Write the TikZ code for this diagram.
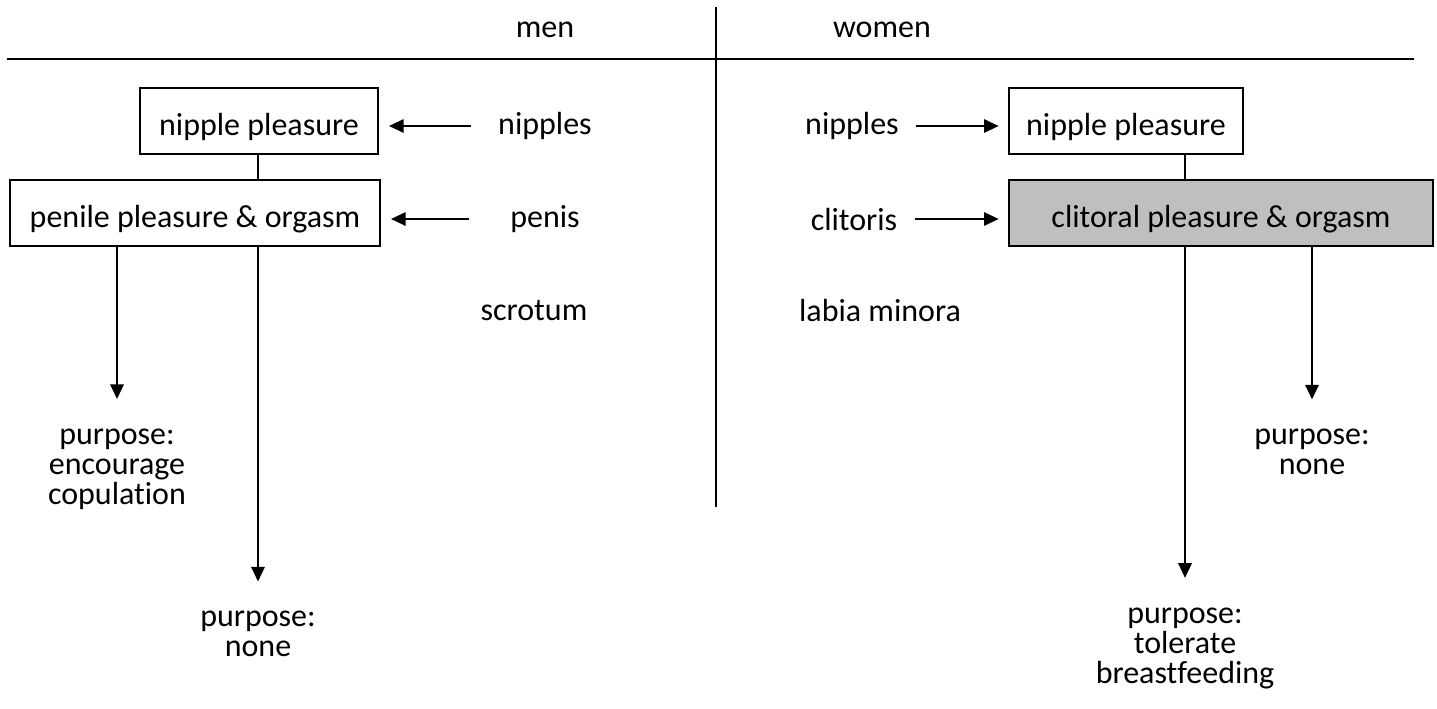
\documentclass[tikz,border=0pt]{standalone}
\usepackage{fontspec}
\setmainfont{Carlito}[Ligatures=NoCommon]
\usetikzlibrary{arrows.meta, positioning}

\tikzset{
    txt/.style={font=\fontsize{24}{22.5}\selectfont, align=center, inner sep=0pt},
    pleasure/.style={txt, draw, line width=1.5pt, minimum height=66*0.75pt, text height=22pt, text depth=1pt},
    feed/.style={line width=1.5pt, -{Triangle[length=11pt, width=10pt]}},
}

\begin{document}
\begin{tikzpicture}[x=0.75pt, y=-0.75pt]
    \useasboundingbox (0,0) rectangle (1437,708);

    % Draw the header lines
    \coordinate (hl) at (7,59);
    \coordinate (hr) at (1414,59);
    \coordinate (vt) at (716,7);
    \coordinate (vb) at (716,507);
    \draw[line width=2pt] (hl) -- (hr);
    \draw[line width=1.25pt] (vt) -- (vb);
    \node[txt] (men) at (545,30) {men};
    \node[txt] (women) at (882,30) {women};

    % Men: purposes (placed first, the arrows use their x)
    \node[txt] (copM) at (117,469) {purpose:\\encourage\\copulation};
    \node[txt] (nonM) at (258,634) {purpose:\\none};

    % Men: boxes
    \node[pleasure, minimum width=238*0.75pt] (npM) at (259,121) {nipple pleasure};
    \node[pleasure, minimum width=370*0.75pt] (ppM) at (195,213) {penile pleasure \& orgasm};
    \draw[line width=1.5pt] (npM.south -| nonM) -- (ppM.north -| nonM);

    % Men: organs
    \node[txt] (nipM) at (545,126) {nipples};
    \node[txt] (penM) at (545,219) {penis};
    \node[txt] (scrM) at (534,310) {scrotum};
    \draw[feed, shorten <=20pt, shorten >=7.5pt] (nipM.west) -- (npM.east |- nipM.west);
    \draw[feed, shorten <=31pt, shorten >=7.5pt] (penM.west) -- (ppM.east |- penM.west);

    % Men: purpose arrows
    \draw[feed, shorten >=22pt] (ppM.south -| copM) -- (copM.north);
    \draw[feed, shorten >=22pt] (ppM.south -| nonM) -- (nonM.north);

    % Women: purposes
    \node[txt] (nonW) at (1312,452) {purpose:\\none};
    \node[txt] (tolW) at (1185,648) {purpose:\\tolerate\\breastfeeding};

    % Women: boxes
    \node[pleasure, minimum width=234*0.75pt] (npW) at (1126,121) {nipple pleasure};
    \node[pleasure, minimum width=424*0.75pt, fill=black!25] (cpW) at (1221,213) {clitoral pleasure \& orgasm};
    \draw[line width=1.5pt] (npW.south -| tolW) -- (cpW.north -| tolW);

    % Women: organs
    \node[txt] (nipW) at (852,126) {nipples};
    \node[txt] (cliW) at (854,219) {clitoris};
    \node[txt] (labW) at (880,310) {labia minora};
    \draw[feed, shorten <=13pt, shorten >=7pt] (nipW.east) -- (npW.west |- nipW.east);
    \draw[feed, shorten <=13pt, shorten >=7pt] (cliW.east) -- (cpW.west |- cliW.east);

    % Women: purpose arrows
    \draw[feed, shorten >=22pt] (cpW.south -| nonW) -- (nonW.north);
    \draw[feed, shorten >=22pt] (cpW.south -| tolW) -- (tolW.north);
\end{tikzpicture}
\end{document}
